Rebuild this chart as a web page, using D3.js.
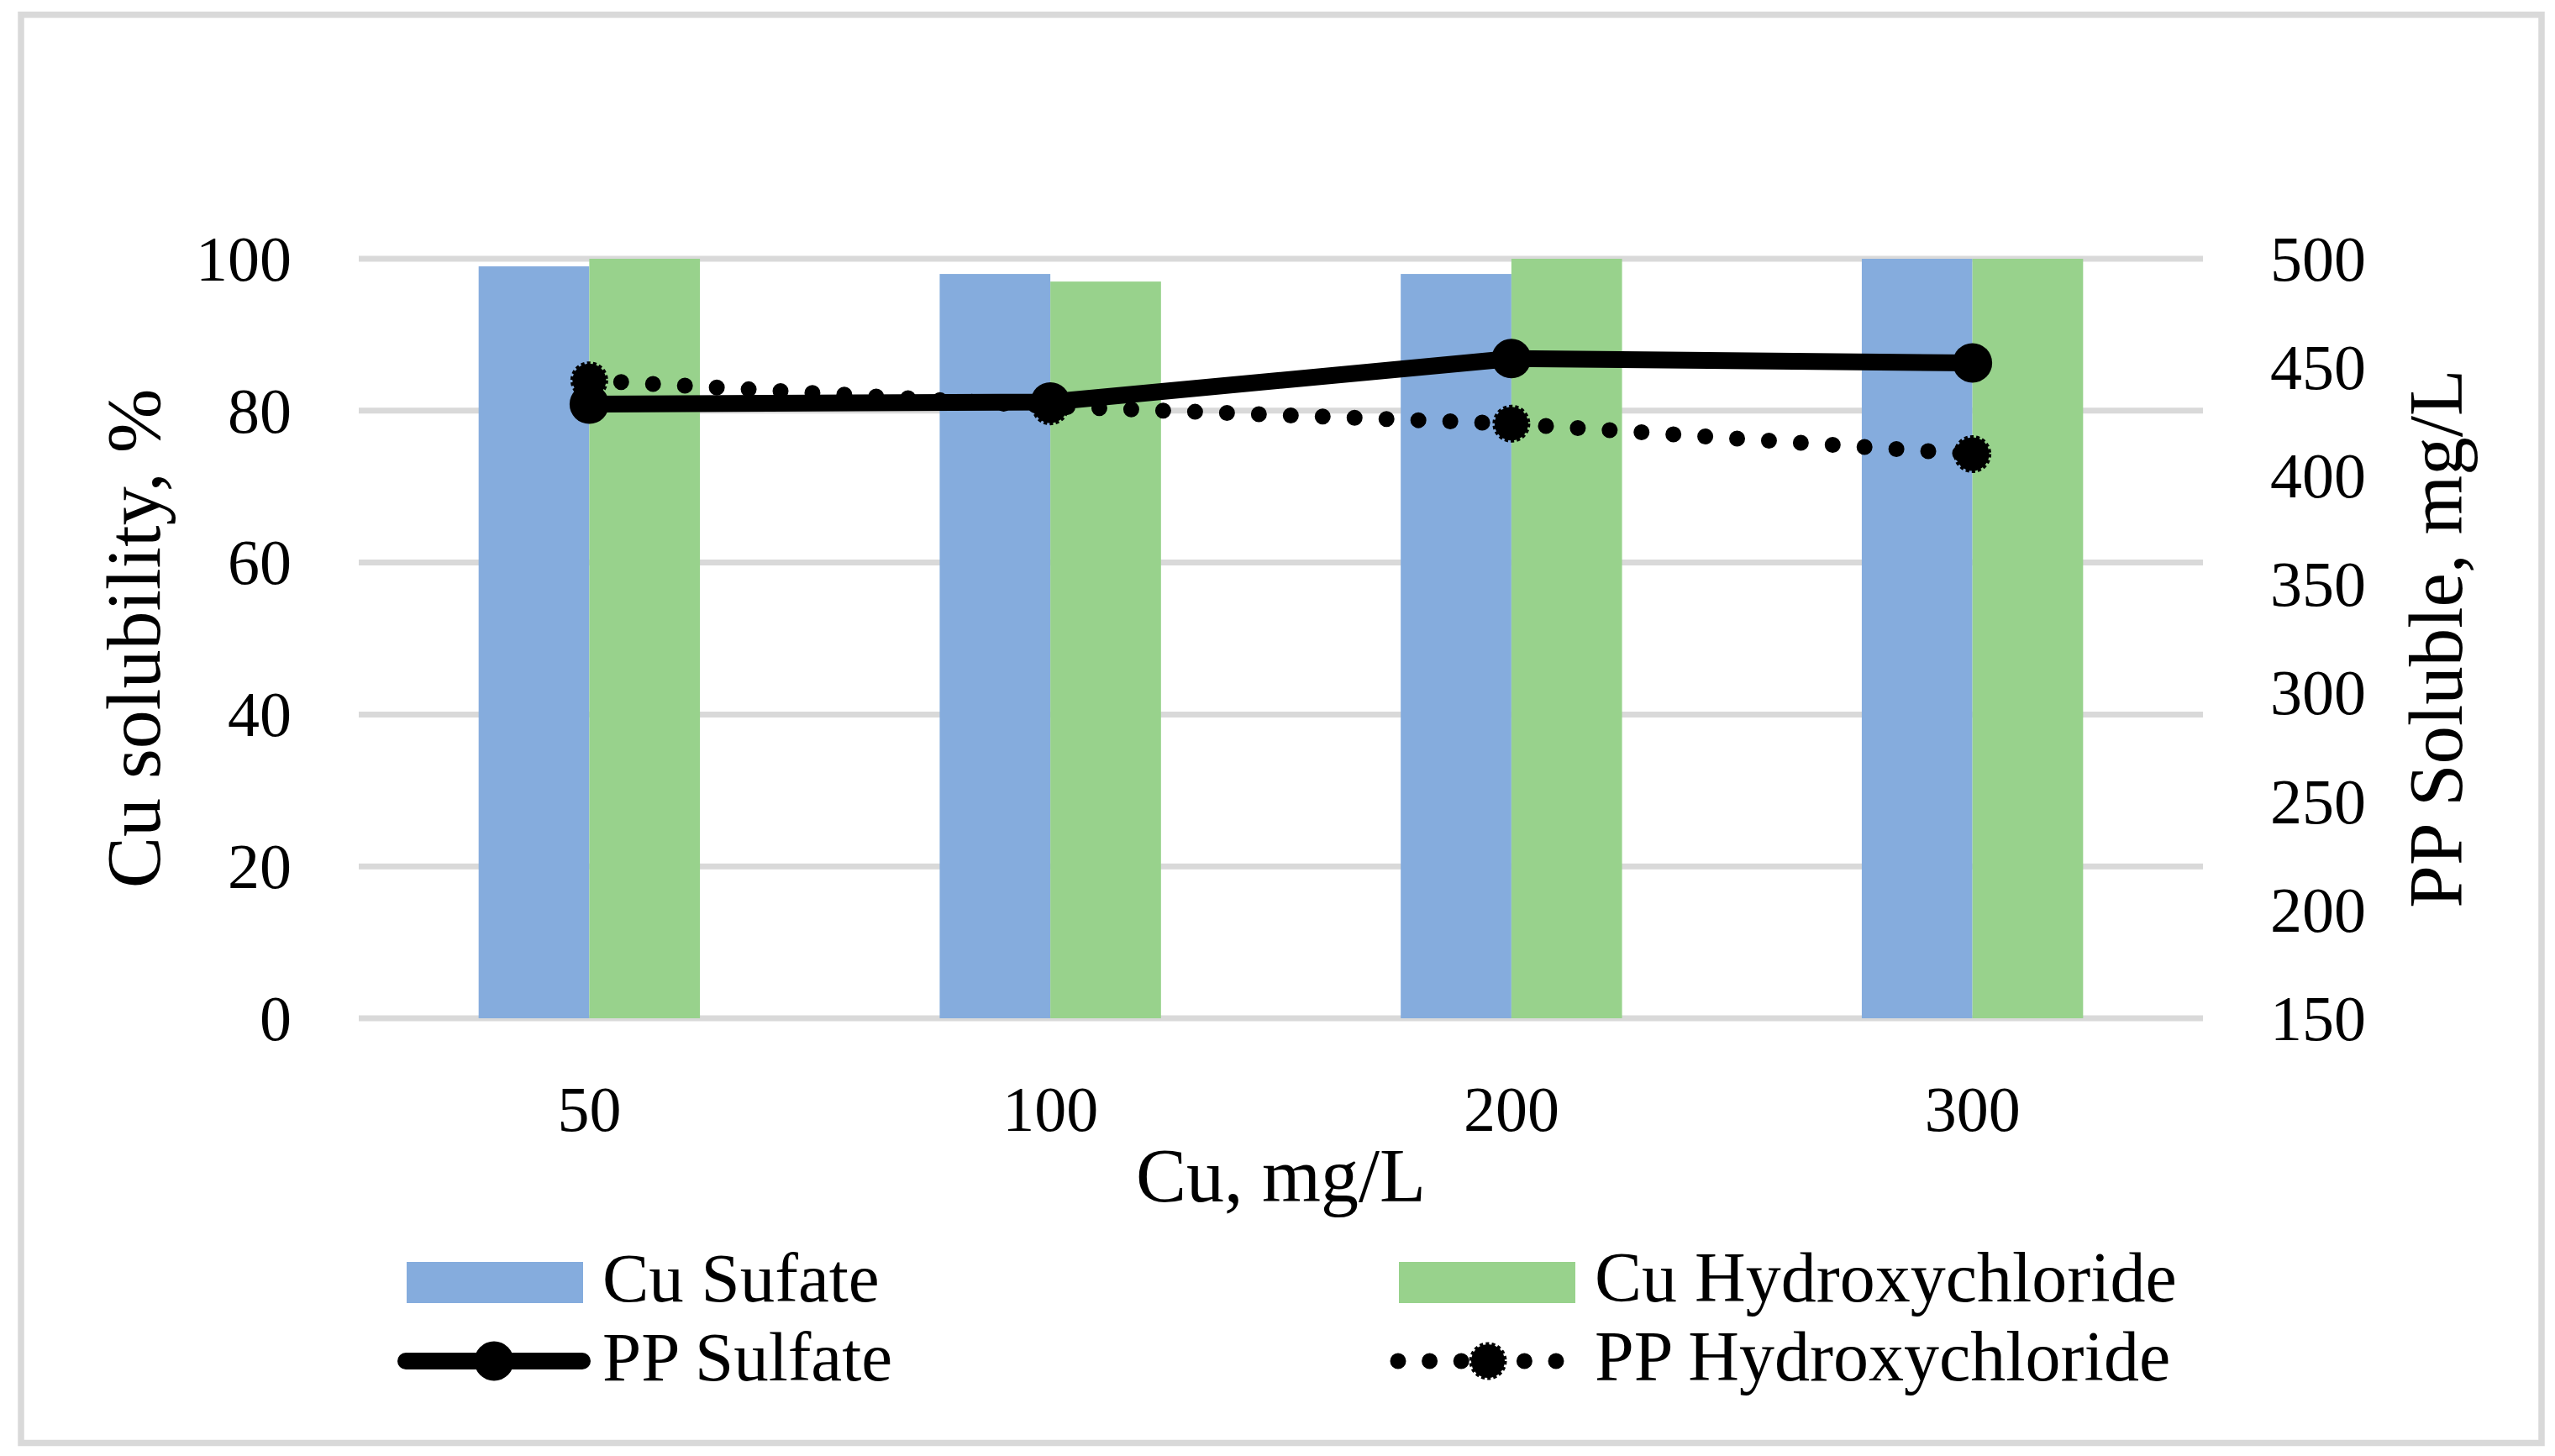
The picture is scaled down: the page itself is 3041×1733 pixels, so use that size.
<!DOCTYPE html>
<html>
<head>
<meta charset="utf-8">
<script src="https://cdn.jsdelivr.net/npm/d3@7"></script>
<style>
    body { margin: 0; background: #fff; }
    svg text { font-family: "Palatino Linotype", "Book Antiqua", Palatino, "Liberation Serif", serif; fill: #000; }
</style>
</head>
<body>
<svg id="chart" width="3041" height="1733"></svg>
<script>
const categories = ['50', '100', '200', '300'];
const cuSulfate = [99, 98, 98, 100];
const cuHydroxy = [100, 97, 100, 100];
const ppSulfate = [433, 434, 454, 452];
const ppHydroxy = [444, 432, 424, 410];
const leftTicks = [0, 20, 40, 60, 80, 100];
const rightTicks = [150, 200, 250, 300, 350, 400, 450, 500];

const blue = '#85acdd';
const green = '#98d28c';
const grid = '#d9d9d9';

const svg = d3.select('#chart');

svg.append('rect')
    .attr('x', 25).attr('y', 17.5)
    .attr('width', 3000).attr('height', 1700)
    .attr('fill', '#fff')
    .attr('stroke', grid)
    .attr('stroke-width', 7.5);

const plot = { left: 427, right: 2622, top: 308, bottom: 1212 };

const x = d3.scaleBand().domain(categories).range([plot.left, plot.right]);
const groupWidth = x.bandwidth() * 0.48;
const x1 = d3.scaleBand().domain(['sulfate', 'hydroxy'])
    .range([(x.bandwidth() - groupWidth) / 2, (x.bandwidth() + groupWidth) / 2]);
const yLeft = d3.scaleLinear().domain([0, 100]).range([plot.bottom, plot.top]);
const yRight = d3.scaleLinear().domain([150, 500]).range([plot.bottom, plot.top]);
const cx = d => x(d) + x.bandwidth() / 2;

// gridlines
svg.append('g')
    .selectAll('line')
    .data(leftTicks)
    .join('line')
    .attr('x1', plot.left).attr('x2', plot.right)
    .attr('y1', d => yLeft(d)).attr('y2', d => yLeft(d))
    .attr('stroke', grid)
    .attr('stroke-width', 7);

// left tick labels
svg.append('g')
    .selectAll('text')
    .data(leftTicks)
    .join('text')
    .attr('x', 347)
    .attr('y', d => yLeft(d))
    .attr('dy', '0.34em')
    .attr('text-anchor', 'end')
    .style('font-size', '76px')
    .text(d => d);

// right tick labels
svg.append('g')
    .selectAll('text')
    .data(rightTicks)
    .join('text')
    .attr('x', 2702)
    .attr('y', d => yRight(d))
    .attr('dy', '0.34em')
    .attr('text-anchor', 'start')
    .style('font-size', '76px')
    .text(d => d);

// category labels
svg.append('g')
    .selectAll('text')
    .data(categories)
    .join('text')
    .attr('x', d => cx(d))
    .attr('y', 1346)
    .attr('text-anchor', 'middle')
    .style('font-size', '76px')
    .text(d => d);

// bars
const bars = svg.append('g');
bars.selectAll('rect.sulfate')
    .data(categories.map((c, i) => ({ c, v: cuSulfate[i] })))
    .join('rect')
    .attr('class', 'sulfate')
    .attr('x', d => x(d.c) + x1('sulfate'))
    .attr('width', x1.bandwidth())
    .attr('y', d => yLeft(d.v))
    .attr('height', d => yLeft(0) - yLeft(d.v))
    .attr('fill', blue);
bars.selectAll('rect.hydroxy')
    .data(categories.map((c, i) => ({ c, v: cuHydroxy[i] })))
    .join('rect')
    .attr('class', 'hydroxy')
    .attr('x', d => x(d.c) + x1('hydroxy'))
    .attr('width', x1.bandwidth())
    .attr('y', d => yLeft(d.v))
    .attr('height', d => yLeft(0) - yLeft(d.v))
    .attr('fill', green);

// lines
const line = d3.line()
    .x((d, i) => cx(categories[i]))
    .y(d => yRight(d));

svg.append('path')
    .datum(ppHydroxy)
    .attr('d', line)
    .attr('fill', 'none')
    .attr('stroke', '#000')
    .attr('stroke-width', 19)
    .attr('stroke-linecap', 'round')
    .attr('stroke-dasharray', '0 38');

svg.append('g')
    .selectAll('circle')
    .data(ppHydroxy)
    .join('circle')
    .attr('cx', (d, i) => cx(categories[i]))
    .attr('cy', d => yRight(d))
    .attr('r', 20)
    .attr('fill', '#000')
    .attr('stroke', '#000')
    .attr('stroke-width', 5)
    .attr('stroke-dasharray', '4 3');

svg.append('path')
    .datum(ppSulfate)
    .attr('d', line)
    .attr('fill', 'none')
    .attr('stroke', '#000')
    .attr('stroke-width', 20)
    .attr('stroke-linejoin', 'round');

svg.append('g')
    .selectAll('circle')
    .data(ppSulfate)
    .join('circle')
    .attr('cx', (d, i) => cx(categories[i]))
    .attr('cy', d => yRight(d))
    .attr('r', 23.5)
    .attr('fill', '#000');

// axis titles
svg.append('text')
    .attr('transform', `translate(190, ${(plot.top + plot.bottom) / 2}) rotate(-90)`)
    .attr('text-anchor', 'middle')
    .style('font-size', '92px')
    .text('Cu solubility, %');

svg.append('text')
    .attr('transform', `translate(2930, ${(plot.top + plot.bottom) / 2}) rotate(-90)`)
    .attr('text-anchor', 'middle')
    .style('font-size', '91px')
    .text('PP Soluble, mg/L');

svg.append('text')
    .attr('x', (plot.left + plot.right) / 2)
    .attr('y', 1430)
    .attr('text-anchor', 'middle')
    .style('font-size', '90px')
    .text('Cu, mg/L');

// legend
const legend = svg.append('g');
legend.append('rect')
    .attr('x', 484).attr('y', 1502).attr('width', 210).attr('height', 49)
    .attr('fill', blue);
legend.append('text')
    .attr('x', 717).attr('y', 1549)
    .style('font-size', '83px')
    .text('Cu Sufate');
legend.append('rect')
    .attr('x', 1665).attr('y', 1502).attr('width', 210).attr('height', 49)
    .attr('fill', green);
legend.append('text')
    .attr('x', 1898).attr('y', 1549)
    .style('font-size', '84px')
    .text('Cu Hydroxychloride');

legend.append('line')
    .attr('x1', 483).attr('x2', 693).attr('y1', 1620).attr('y2', 1620)
    .attr('stroke', '#000').attr('stroke-width', 20).attr('stroke-linecap', 'round');
legend.append('circle')
    .attr('cx', 588).attr('cy', 1620).attr('r', 23.5).attr('fill', '#000');
legend.append('text')
    .attr('x', 717).attr('y', 1643)
    .style('font-size', '83px')
    .text('PP Sulfate');

legend.append('line')
    .attr('x1', 1664).attr('x2', 1852).attr('y1', 1620).attr('y2', 1620)
    .attr('stroke', '#000').attr('stroke-width', 19)
    .attr('stroke-linecap', 'round').attr('stroke-dasharray', '0 37.6');
legend.append('circle')
    .attr('cx', 1771).attr('cy', 1620).attr('r', 20)
    .attr('fill', '#000').attr('stroke', '#000')
    .attr('stroke-width', 5).attr('stroke-dasharray', '4 3');
legend.append('text')
    .attr('x', 1898).attr('y', 1643)
    .style('font-size', '84px')
    .text('PP Hydroxychloride');
</script>
</body>
</html>
